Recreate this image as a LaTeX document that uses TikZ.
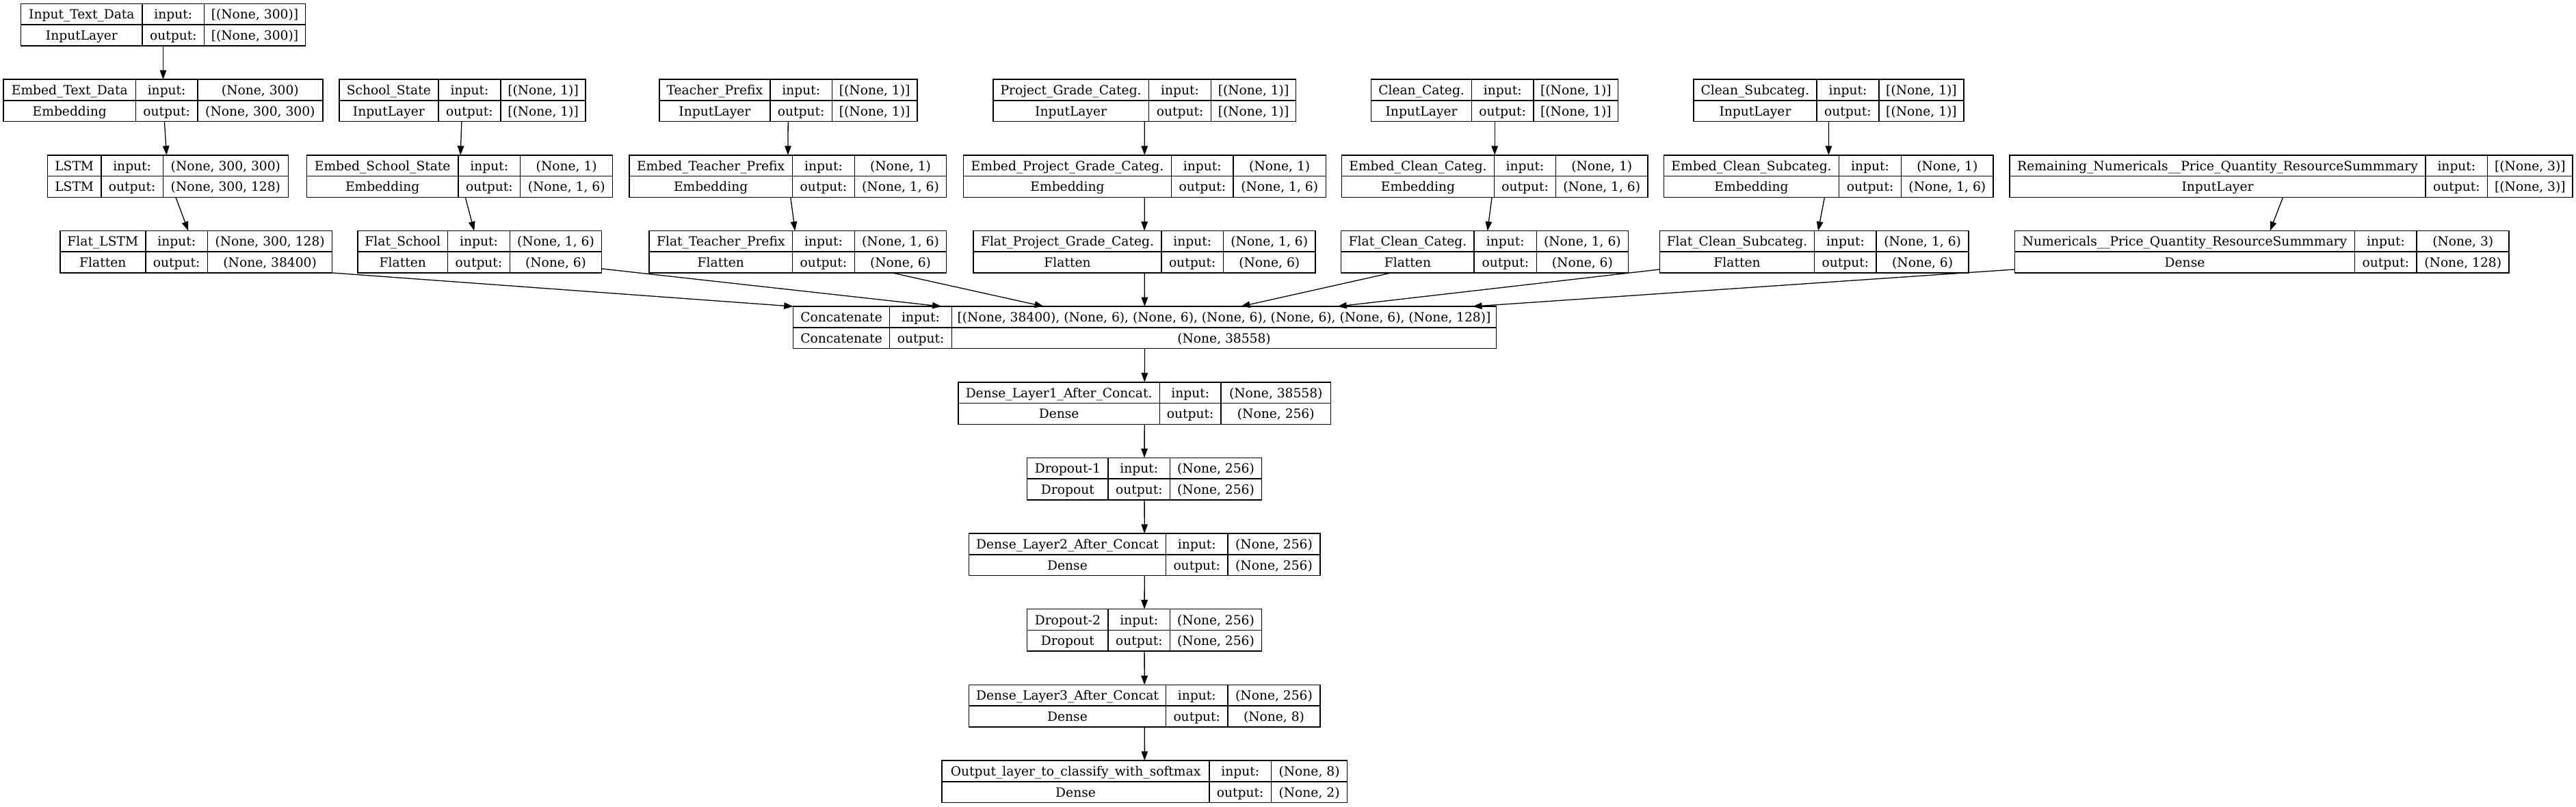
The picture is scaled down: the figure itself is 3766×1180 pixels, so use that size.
\documentclass[tikz,border=0pt]{standalone}
\usepackage{fontspec}
\setmainfont{DejaVu Serif}
\usetikzlibrary{arrows.meta,calc}
\tikzset{
  kframe/.style={draw=black, line width=1.5pt, inner sep=0pt, outer sep=0pt, anchor=north west},
  kline/.style={line width=1.5pt},
  ktext/.style={inner sep=0pt, anchor=base, font=\fontsize{18.67}{22}\selectfont},
  karrow/.style={line width=1.3pt, -{Triangle[length=13.5pt,width=9.5pt]}},
}
\newcommand\kbox[9]{%
  \def\kname{#1}\def\krow{#2}\def\kL{#3}\def\kDa{#4}\def\kDb{#5}\def\kR{#6}%
  \def\kTa{#7}\def\kTb{#8}\def\kSa{#9}\kboxB}
\newcommand\kboxB[1]{%
  \pgfmathsetmacro\kT{5.5+110.65*\krow}%
  \pgfmathsetmacro\kM{\kT+30.75}%
  \pgfmathsetmacro\kB{\kT+61.5}%
  \pgfmathsetmacro\kW{\kR-\kL}%
  \pgfmathsetmacro\kxa{(\kL+\kDa)/2}%
  \pgfmathsetmacro\kxb{(\kDa+\kDb)/2}%
  \pgfmathsetmacro\kxc{(\kDb+\kR)/2}%
  \node[kframe, minimum width=\kW pt, minimum height=61.5pt] (\kname) at (\kL,\kT) {};
  \draw[kline] (\kL,\kM) -- (\kR,\kM) (\kDa,\kT) -- (\kDa,\kB) (\kDb,\kT) -- (\kDb,\kB);
  \node[ktext] (\kname-a) at (\kxa,\kT+22.3) {\kTa};
  \node[ktext] (\kname-b) at (\kxa,\kT+53.1) {\kTb};
  \node[ktext] (\kname-c) at (\kxb,\kT+22.3) {input:};
  \node[ktext] (\kname-d) at (\kxb,\kT+53.1) {output:};
  \node[ktext] (\kname-e) at (\kxc,\kT+22.3) {\kSa};
  \node[ktext] (\kname-f) at (\kxc,\kT+53.1) {#1};
}
\begin{document}
\begin{tikzpicture}[x=1pt,y=-1pt]
\fill[white] (0,0) rectangle (3766,1180);
\useasboundingbox (0,0) rectangle (3766,1180);
% rank 0
\kbox{inp}{0}{30.6}{208.2}{298.5}{446.4}{Input\_Text\_Data}{InputLayer}{[(None, 300)]}{[(None, 300)]}
% rank 1
\kbox{embtext}{1}{5.1}{198.5}{288.8}{471.9}{Embed\_Text\_Data}{Embedding}{(None, 300)}{(None, 300, 300)}
\kbox{school}{1}{495.9}{640.8}{732.1}{856}{School\_State}{InputLayer}{[(None, 1)]}{[(None, 1)]}
\kbox{teacher}{1}{963.9}{1125.9}{1216.5}{1340.8}{Teacher\_Prefix}{InputLayer}{[(None, 1)]}{[(None, 1)]}
\kbox{project}{1}{1451.8}{1679.5}{1770.7}{1894.4}{Project\_Grade\_Categ.}{InputLayer}{[(None, 1)]}{[(None, 1)]}
\kbox{clean}{1}{2004.7}{2151.4}{2242}{2365.7}{Clean\_Categ.}{InputLayer}{[(None, 1)]}{[(None, 1)]}
\kbox{cleansub}{1}{2476}{2655.9}{2747}{2870.9}{Clean\_Subcateg.}{InputLayer}{[(None, 1)]}{[(None, 1)]}
% rank 2
\kbox{lstm}{2}{69.4}{148}{238.3}{421.4}{LSTM}{LSTM}{(None, 300, 300)}{(None, 300, 128)}
\kbox{embschool}{2}{448.5}{669.9}{760.7}{895.7}{Embed\_School\_State}{Embedding}{(None, 1)}{(None, 1, 6)}
\kbox{embteacher}{2}{919.9}{1158.4}{1249.6}{1383.5}{Embed\_Teacher\_Prefix}{Embedding}{(None, 1)}{(None, 1, 6)}
\kbox{embproject}{2}{1408.4}{1712.6}{1803}{1938.4}{Embed\_Project\_Grade\_Categ.}{Embedding}{(None, 1)}{(None, 1, 6)}
\kbox{embclean}{2}{1961.4}{2184.6}{2274.5}{2409}{Embed\_Clean\_Categ.}{Embedding}{(None, 1)}{(None, 1, 6)}
\kbox{embcleansub}{2}{2432.7}{2688.4}{2779.6}{2914}{Embed\_Clean\_Subcateg.}{Embedding}{(None, 1)}{(None, 1, 6)}
\kbox{remaining}{2}{2938}{3546}{3636.7}{3761}{Remaining\_Numericals\_\_Price\_Quantity\_ResourceSummmary}{InputLayer}{[(None, 3)]}{[(None, 3)]}
% rank 3
\kbox{flatlstm}{3}{87.8}{212.8}{303.6}{485.7}{Flat\_LSTM}{Flatten}{(None, 300, 128)}{(None, 38400)}
\kbox{flatschool}{3}{523}{654.6}{745.4}{879.7}{Flat\_School}{Flatten}{(None, 1, 6)}{(None, 6)}
\kbox{flatteacher}{3}{949.2}{1158.4}{1249.6}{1383.5}{Flat\_Teacher\_Prefix}{Flatten}{(None, 1, 6)}{(None, 6)}
\kbox{flatproject}{3}{1423}{1698}{1788.5}{1923}{Flat\_Project\_Grade\_Categ.}{Flatten}{(None, 1, 6)}{(None, 6)}
\kbox{flatclean}{3}{1960.7}{2155.2}{2246.4}{2380.4}{Flat\_Clean\_Categ.}{Flatten}{(None, 1, 6)}{(None, 6)}
\kbox{flatcleansub}{3}{2426.3}{2652.7}{2743.2}{2878}{Flat\_Clean\_Subcateg.}{Flatten}{(None, 1, 6)}{(None, 6)}
\kbox{numericals}{3}{2945.4}{3442.6}{3533.2}{3668.2}{Numericals\_\_Price\_Quantity\_ResourceSummmary}{Dense}{(None, 3)}{(None, 128)}
% rank 4..10
\kbox{concat}{4}{1159.7}{1300.5}{1391.6}{2187.5}{Concatenate}{Concatenate}{[(None, 38400), (None, 6), (None, 6), (None, 6), (None, 6), (None, 6), (None, 128)]}{(None, 38558)}
\kbox{dense1}{5}{1400.8}{1695.4}{1785}{1945.6}{Dense\_Layer1\_After\_Concat.}{Dense}{(None, 38558)}{(None, 256)}
\kbox{drop1}{6}{1501.7}{1620}{1710.7}{1844.3}{Dropout-1}{Dropout}{(None, 256)}{(None, 256)}
\kbox{dense2}{7}{1416.5}{1704.5}{1795}{1930}{Dense\_Layer2\_After\_Concat}{Dense}{(None, 256)}{(None, 256)}
\kbox{drop2}{8}{1501.7}{1620}{1710.7}{1844.3}{Dropout-2}{Dropout}{(None, 256)}{(None, 256)}
\kbox{dense3}{9}{1416.5}{1704.5}{1795}{1930}{Dense\_Layer3\_After\_Concat}{Dense}{(None, 256)}{(None, 8)}
\kbox{outl}{10}{1377.2}{1767.9}{1858.5}{1969.6}{Output\_layer\_to\_classify\_with\_softmax}{Dense}{(None, 8)}{(None, 2)}
% edges
\draw[karrow] (inp) -- (embtext);
\draw[karrow] (embtext) -- (lstm);
\draw[karrow] (lstm) -- (flatlstm);
\draw[karrow] (school) -- (embschool);
\draw[karrow] (embschool) -- (flatschool);
\draw[karrow] (teacher) -- (embteacher);
\draw[karrow] (embteacher) -- (flatteacher);
\draw[karrow] (project) -- (embproject);
\draw[karrow] (embproject) -- (flatproject);
\draw[karrow] (clean) -- (embclean);
\draw[karrow] (embclean) -- (flatclean);
\draw[karrow] (cleansub) -- (embcleansub);
\draw[karrow] (embcleansub) -- (flatcleansub);
\draw[karrow] (remaining) -- (numericals);
\draw[karrow] (flatlstm.south east) -- (concat.north west);
\draw[karrow] ([yshift=6pt]flatschool.south east) -- ([xshift=216.8pt]concat.north west);
\draw[karrow] ([xshift=-79.2pt]flatteacher.south east) -- ([xshift=366.3pt]concat.north west);
\draw[karrow] (flatproject) -- (concat);
\draw[karrow] ([xshift=73.2pt]flatclean.south west) -- ([xshift=654.3pt]concat.north west);
\draw[karrow] ([yshift=5pt]flatcleansub.south west) -- ([xshift=795.6pt]concat.north west);
\draw[karrow] ([yshift=5pt]numericals.south west) -- ([xshift=993.3pt]concat.north west);
\draw[karrow] (concat) -- (dense1);
\draw[karrow] (dense1) -- (drop1);
\draw[karrow] (drop1) -- (dense2);
\draw[karrow] (dense2) -- (drop2);
\draw[karrow] (drop2) -- (dense3);
\draw[karrow] (dense3) -- (outl);
\end{tikzpicture}
\end{document}
